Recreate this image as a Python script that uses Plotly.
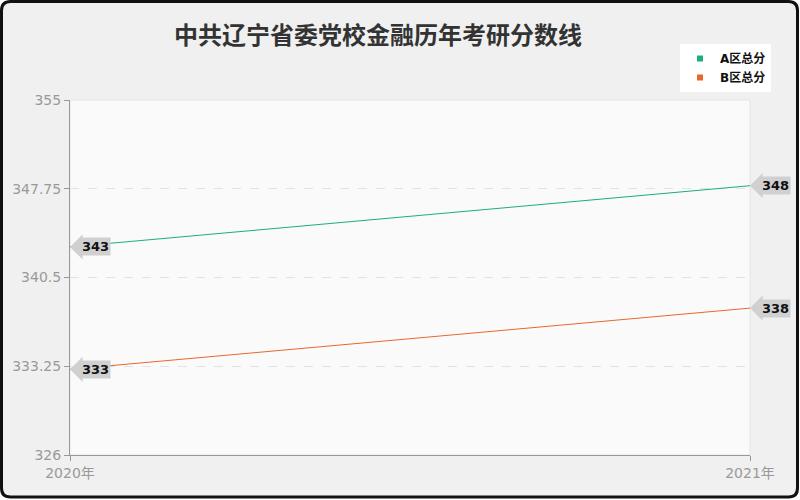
import plotly.graph_objects as go

years = ["2020年", "2021年"]
a_scores = [343, 348]
b_scores = [333, 338]
series_names = ["A区总分", "B区总分"]
colors = ["#1aae7f", "#e8672f"]
y_ticks = [326, 333.25, 340.5, 347.75, 355]
y_tick_text = ["326", "333.25", "340.5", "347.75", "355"]
title_text = "中共辽宁省委党校金融历年考研分数线"

W, H = 800, 500
ML, MR, MT, MB = 70, 50, 100, 45
PW, PH = W - ML - MR, H - MT - MB

def px(x):
    return (x - ML) / PW

def py(y):
    return (H - MB - y) / PH

def rounded(x0, y0, x1, y1, r):
    return (f"M {px(x0 + r)},{py(y0)} L {px(x1 - r)},{py(y0)} "
            f"Q {px(x1)},{py(y0)} {px(x1)},{py(y0 + r)} "
            f"L {px(x1)},{py(y1 - r)} Q {px(x1)},{py(y1)} {px(x1 - r)},{py(y1)} "
            f"L {px(x0 + r)},{py(y1)} Q {px(x0)},{py(y1)} {px(x0)},{py(y1 - r)} "
            f"L {px(x0)},{py(y0 + r)} Q {px(x0)},{py(y0)} {px(x0 + r)},{py(y0)} Z")

fig = go.Figure()
latin = "DejaVu Sans, Noto Sans CJK SC"
cjk = "Noto Sans CJK SC"

for name, vals, col in zip(series_names, [a_scores, b_scores], colors):
    fig.add_trace(go.Scatter(x=years, y=vals, mode="lines", name=name,
                             line=dict(color=col, width=1), showlegend=False,
                             hoverinfo="x+y"))
    fig.add_trace(go.Scatter(x=[None], y=[None], mode="markers",
                             name=f"<b>{name}</b>",
                             marker=dict(symbol="square", size=6, color=col),
                             showlegend=True))

annotations = []
for vals in [a_scores, b_scores]:
    for x, v in zip(years, vals):
        annotations.append(dict(
            x=x, y=v, xref="x", yref="y", text=f"<b>{v}</b>",
            showarrow=True, ax=10, ay=0, axref="pixel", ayref="pixel",
            xanchor="left", yanchor="middle",
            arrowhead=1, arrowsize=4.2, arrowwidth=1, arrowcolor="#d0d0d0",
            standoff=0,
            bgcolor="#d0d0d0", borderpad=1,
            font=dict(family=latin, size=13, color="#111111"),
        ))

shapes = [
    dict(type="path", xref="paper", yref="paper", layer="below",
         path=rounded(1.5, 1.5, 797.5, 497, 9),
         fillcolor="#f0f0f0", line=dict(color="#111111", width=3)),
    dict(type="rect", xref="paper", yref="paper", layer="below",
         x0=0, x1=1, y0=0, y1=1, fillcolor="#fafafa",
         line=dict(color="#e4e4e4", width=1)),
]

fig.update_layout(
    width=W, height=H,
    margin=dict(l=ML, r=MR, t=MT, b=MB),
    paper_bgcolor="#ffffff",
    plot_bgcolor="rgba(0,0,0,0)",
    title=dict(text=f"<b>{title_text}</b>", x=378 / W, xanchor="center",
               y=1 - 36 / H, yanchor="middle",
               font=dict(family=cjk, size=24, color="#333333")),
    legend=dict(x=px(680), y=py(44), xanchor="left", yanchor="top",
                bgcolor="#ffffff", borderwidth=0, itemwidth=30,
                font=dict(family=latin, size=12, color="#111111"),
                tracegroupgap=0),
    xaxis=dict(range=[0, 1], type="category", showgrid=False,
               tickmode="array", tickvals=years, ticktext=years,
               showline=True, linecolor="#999999", linewidth=1,
               ticks="outside", ticklen=5, tickcolor="#999999",
               tickfont=dict(family=latin, size=14, color="#999999"),
               zeroline=False, fixedrange=True),
    yaxis=dict(range=[326, 355], tickmode="array", tickvals=y_ticks,
               ticktext=y_tick_text, showline=True, linecolor="#999999",
               linewidth=1, ticks="outside", ticklen=5, tickcolor="#999999",
               tickfont=dict(family=latin, size=14, color="#999999"),
               showgrid=True, gridcolor="#e2e2e2", griddash="dash",
               gridwidth=1, zeroline=False, fixedrange=True),
    shapes=shapes,
    annotations=annotations,
    showlegend=True,
)

fig.write_html("out.html", config={"displayModeBar": False},
               post_script="document.body.style.margin='0';document.body.style.overflow='hidden';")
